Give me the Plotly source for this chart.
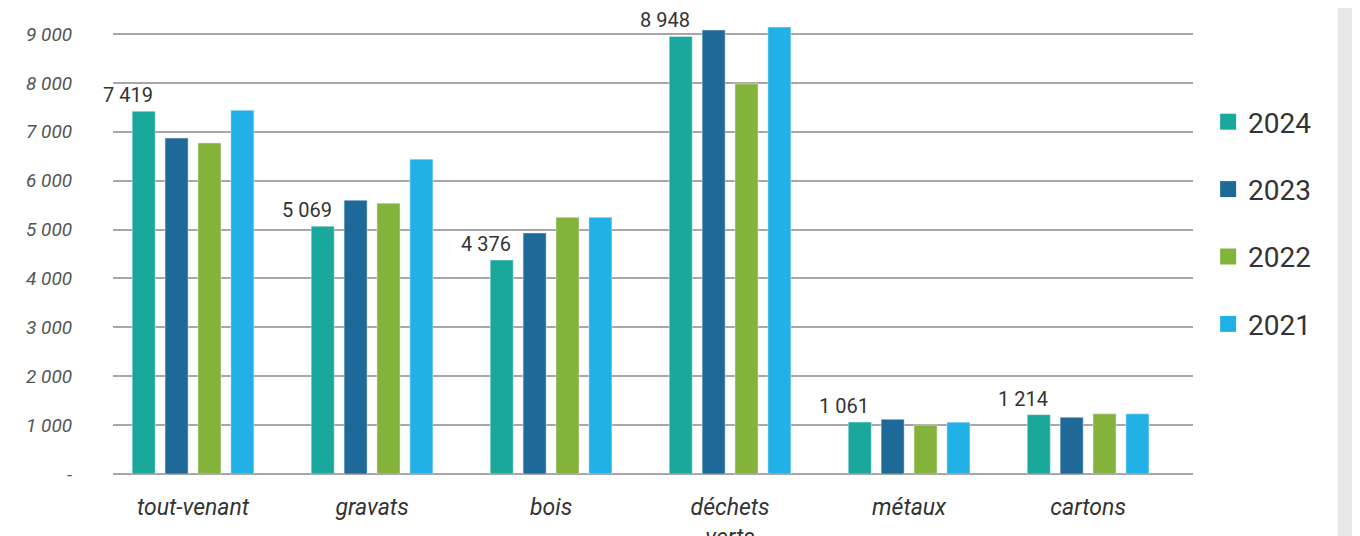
import plotly.graph_objects as go

categories = ["tout-venant", "gravats", "bois", "déchets<br>verts", "métaux", "cartons"]
years = ["2024", "2023", "2022", "2021"]
v2024 = [7419, 5069, 4376, 8948, 1061, 1214]
v2023 = [6870, 5600, 4930, 9080, 1120, 1160]
v2022 = [6770, 5540, 5250, 7980, 1000, 1230]
v2021 = [7440, 6440, 5250, 9140, 1060, 1230]
y_ticks = [0, 1000, 2000, 3000, 4000, 5000, 6000, 7000, 8000, 9000]

colors = ["#1ba89c", "#1e6997", "#83b33a", "#21b1e6"]
series = [v2024, v2023, v2022, v2021]


def fmt(v):
    return "-" if v == 0 else f"{v:,}".replace(",", " ")


# page body has an 8px margin, so the figure is sized to fill the rest
W, H = 1352, 528
L, R, T, B = 105, 167, 2, 62
x_range = [-0.447, 5.586]
bargap, bargroupgap = 0.265, 0.30

fig = go.Figure()
for name, vals, col in zip(years, series, colors):
    fig.add_trace(go.Bar(x=categories, y=vals, name=name, marker_color=col,
                         showlegend=False, hoverinfo="y"))
# legend squares
for name, col in zip(years, colors):
    fig.add_trace(go.Scatter(x=[None], y=[None], mode="markers", name=name,
                             legendgroup=name,
                             marker=dict(symbol="square", size=19, color=col)))

# value labels for 2024, right-aligned with the bar's right edge
cat_px = (W - L - R) / (x_range[1] - x_range[0])
slot = cat_px * (1 - bargap) / len(years)
bar_w = slot * (1 - bargroupgap)
right_edge = -1.5 * slot + bar_w / 2
for c, v in zip(categories, v2024):
    fig.add_annotation(x=c, y=v, xref="x", yref="y", text=fmt(v), showarrow=False,
                       xanchor="right", yanchor="bottom", xshift=right_edge, yshift=2,
                       font=dict(family="Roboto", size=20, color="#333333"))

fig.add_shape(type="rect", xref="paper", yref="paper", x0=1.134, x1=1.3,
              y0=-0.3, y1=1.1, fillcolor="#e6e7e9", line_width=0, layer="below")

fig.update_layout(
    width=W, height=H,
    margin=dict(l=L, r=R, t=T, b=B, autoexpand=False),
    plot_bgcolor="white", paper_bgcolor="white",
    barmode="group", bargap=bargap, bargroupgap=bargroupgap,
    font=dict(family="Roboto", color="#333333"),
    xaxis=dict(range=x_range, showgrid=False, showline=False, automargin=False,
               ticks="outside", ticklen=12, tickcolor="rgba(0,0,0,0)",
               tickfont=dict(family="Roboto", size=23, color="#333333", style="italic")),
    yaxis=dict(range=[0, 9490], tickvals=y_ticks, ticktext=[fmt(v) for v in y_ticks],
               showgrid=True, gridcolor="#a7a7a9", gridwidth=2, automargin=False,
               zeroline=True, zerolinecolor="#a7a7a9", zerolinewidth=2,
               ticks="outside", ticklen=36, tickcolor="rgba(0,0,0,0)",
               tickfont=dict(family="Roboto", size=19, color="#555555", style="italic")),
    legend=dict(x=1.014, xanchor="left", y=0.8125, yanchor="top",
                tracegroupgap=28, itemsizing="trace",
                font=dict(family="Roboto", size=28, color="#333333")),
)

fig.write_html("out.html")
